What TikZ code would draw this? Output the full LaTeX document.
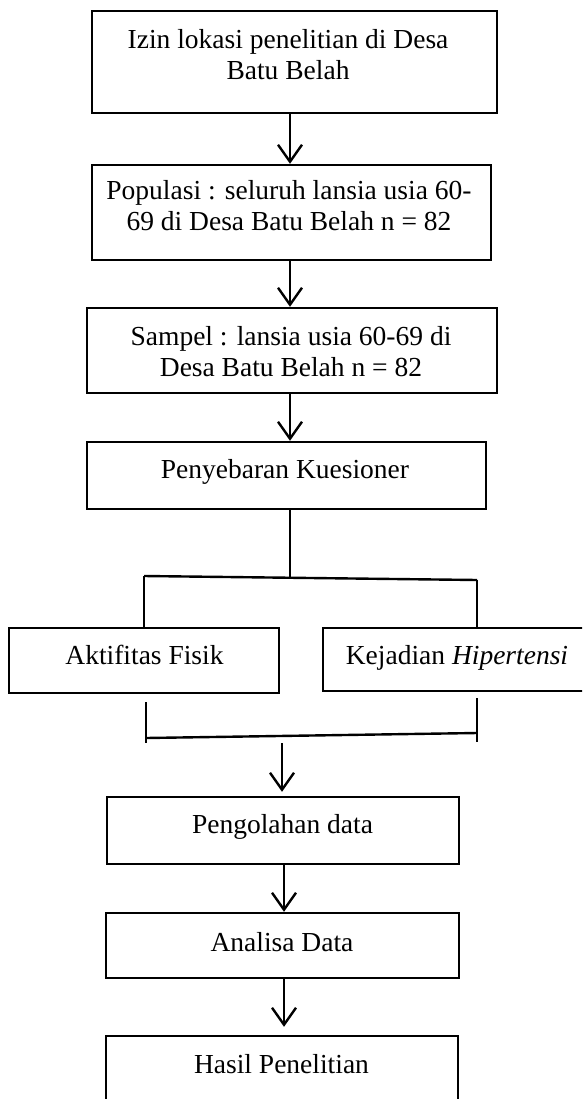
\documentclass[tikz,border=0pt]{standalone}
\usepackage{fontspec}
\setmainfont{Liberation Serif}
\usetikzlibrary{arrows.meta}
\begin{document}
\begin{tikzpicture}[x=1pt, y=-1pt,
    boxstyle/.style={draw, line width=2.4pt, inner sep=0pt},
    txtstyle/.style={font=\fontsize{27.5}{31}\selectfont, align=center, inner sep=0pt, anchor=base},
    flowline/.style={line width=2.4pt},
    flowarrow/.style={line width=2.4pt, -{Straight Barb[length=17pt, width=24pt, line width=2.4pt]}}
]
    \useasboundingbox (0,0) rectangle (582,1099);
    \clip (0,0) rectangle (582,1099);
    % Boxes (frames only, text placed separately)
    \node[boxstyle, minimum width=405pt, minimum height=102pt] (izin) at (294.5,62) {};
    \node[boxstyle, minimum width=399pt, minimum height=95pt] (populasi) at (291.5,212.5) {};
    \node[boxstyle, minimum width=410pt, minimum height=85pt] (sampel) at (292,350.5) {};
    \node[boxstyle, minimum width=399pt, minimum height=67pt] (sebar) at (286.5,475.5) {};
    \node[boxstyle, minimum width=270pt, minimum height=65pt] (fisik) at (144,660.5) {};
    \node[boxstyle, minimum width=277pt, minimum height=63pt] (hiper) at (461.5,659.5) {};
    \node[boxstyle, minimum width=352pt, minimum height=67pt] (olah) at (283,830.5) {};
    \node[boxstyle, minimum width=353pt, minimum height=65pt] (analisa) at (282.5,945.5) {};
    \node[boxstyle, minimum width=352pt, minimum height=84pt] (hasil) at (282,1078) {};
    % Texts (base = last line)
    \node[txtstyle] (izintxt) at (288,80) {Izin lokasi penelitian di Desa\\Batu Belah};
    \node[txtstyle] (populasitxt) at (289,231) {Populasi : seluruh lansia usia 60-\\69 di Desa Batu Belah n = 82};
    \node[txtstyle] (sampeltxt) at (291,376) {Sampel : lansia usia 60-69 di\\Desa Batu Belah n = 82};
    \node[txtstyle] (sebartxt) at (285,478) {Penyebaran Kuesioner};
    \node[txtstyle] (fisiktxt) at (144.5,664) {Aktifitas Fisik};
    \node[txtstyle] (hipertxt) at (457,664) {Kejadian \textit{Hipertensi}};
    \node[txtstyle] (olahtxt) at (282.5,833) {Pengolahan data};
    \node[txtstyle] (analisatxt) at (282,951) {Analisa Data};
    \node[txtstyle] (hasiltxt) at (281.5,1073) {Hasil Penelitian};
    % Spine and fork points
    \coordinate (spine) at (290,0);
    \coordinate (spinelow) at (282,0);
    \coordinate (spineend) at (284,0);
    \coordinate (fork) at (290,577);
    \coordinate (forkl) at (144,576);
    \coordinate (forkr) at (477,580);
    \coordinate (joinl) at (146,738);
    \coordinate (joinr) at (477,733);
    % Arrows down the top part
    \draw[flowarrow] (izin.south -| spine) -- (populasi.north -| spine);
    \draw[flowarrow] (populasi.south -| spine) -- (sampel.north -| spine);
    \draw[flowarrow] (sampel.south -| spine) -- (sebar.north -| spine);
    % Split into the two variables
    \draw[flowline] (sebar.south -| spine) -- (fork);
    \draw[flowline] (forkl) -- (forkr);
    \draw[flowline] (forkl) -- (fisik.north -| forkl);
    \draw[flowline] (forkr) -- (hiper.north -| forkr);
    % Join again
    \draw[flowline] ([yshift=-8pt]fisik.south -| joinl) -- ([yshift=-5pt]joinl);
    \draw[flowline] ([yshift=-6pt]hiper.south -| joinr) -- ([yshift=-9pt]joinr);
    \draw[flowline] (joinl) -- (joinr);
    \draw[flowarrow] (spinelow |- 0,743) -- ([yshift=4pt]olah.north -| spinelow);
    % Arrows down the bottom part
    \draw[flowarrow] (olah.south -| spineend) -- (analisa.north -| spineend);
    \draw[flowarrow] (analisa.south -| spineend) -- ([yshift=8pt]hasil.north -| spineend);
\end{tikzpicture}
\end{document}
